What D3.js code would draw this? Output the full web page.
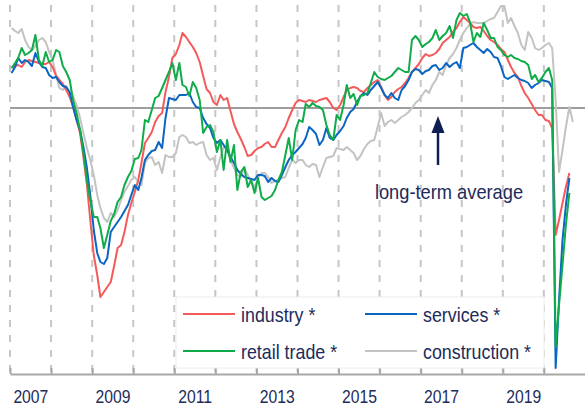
<!DOCTYPE html>
<html>
<head>
<meta charset="utf-8">
<script src="https://cdn.jsdelivr.net/npm/d3@7"></script>
<style>
  body { margin: 0; background: #fff; }
  text { font-family: "Liberation Sans", Arial, sans-serif; fill: #1c2b5a; }
</style>
</head>
<body>
<div id="chart"></div>
<script>
// Monthly confidence indicators, long-term average = 100, first month Jan 2007
var firstMonth = new Date(2007, 0, 15);

var industry = [
  104.0,104.2,104.3,104.1,104.6,104.8,104.7,104.6,104.5,104.4,
  104.4,104.6,104.1,103.2,102.8,102.4,101.8,101.1,100.1,98.8,
  97.5,95.1,92.3,88.8,85.3,83.3,81.1,81.6,82.1,82.6,
  84.2,86.0,86.3,87.6,89.3,90.5,91.6,92.8,94.5,96.5,
  97.0,97.6,98.6,99.2,99.5,101.6,103.1,105.0,105.4,106.3,
  107.5,107.1,106.6,106.1,105.5,104.6,103.2,101.9,101.5,100.6,
  100.3,101.3,100.8,101.0,99.7,98.4,97.6,96.9,96.1,95.2,
  95.3,95.7,96.0,96.1,96.4,96.6,96.1,96.1,96.8,97.5,
  98.1,99.0,99.8,100.5,100.8,100.7,100.6,100.8,100.7,100.6,
  100.8,100.9,101.0,100.6,100.0,99.8,100.3,101.1,101.8,102.0,
  102.1,102.0,101.7,101.6,102.0,102.3,102.6,102.8,102.1,101.3,
  100.8,101.1,101.6,101.9,102.1,102.5,103.0,103.6,104.0,104.4,
  105.0,105.4,105.2,105.3,105.5,105.9,106.5,106.8,107.1,107.6,
  108.0,108.6,109.1,108.8,108.5,108.1,108.0,108.1,107.7,107.2,
  106.8,106.6,106.3,105.9,105.6,104.8,104.1,103.5,103.1,102.2,
  101.5,101.0,100.4,99.8,99.3,99.3,98.8,98.7,98.0,87.3,
  88.8,90.5,92.1,93.5
];

var services = [
  103.5,104.1,105.0,104.5,104.8,104.6,104.2,105.5,104.6,104.1,
  104.0,103.3,103.0,103.1,102.6,102.2,102.1,101.6,100.1,98.8,
  97.8,96.1,94.0,91.3,87.8,85.5,84.6,84.4,85.0,87.6,
  88.1,88.6,89.1,89.7,90.3,91.3,92.3,91.8,93.0,94.8,
  95.3,95.7,95.8,96.6,96.0,99.0,101.0,100.9,100.8,101.3,
  101.3,101.3,101.5,100.6,100.1,100.0,99.0,98.4,98.0,97.0,
  96.5,96.8,96.3,95.8,95.1,94.5,93.8,93.4,93.1,93.0,
  92.9,92.8,93.3,93.3,93.2,92.6,93.0,92.7,92.6,93.3,
  94.1,94.8,95.3,95.6,96.0,96.4,97.0,98.1,97.8,97.4,
  96.3,96.8,98.0,97.0,96.8,97.3,97.7,98.2,99.0,99.6,
  99.9,100.6,101.2,101.5,101.3,101.8,102.2,102.6,102.0,101.3,
  101.0,101.5,101.0,100.8,101.8,102.2,102.8,103.6,103.9,103.8,
  103.4,103.7,103.8,104.2,104.3,103.8,104.0,104.5,104.1,104.4,
  104.6,104.0,106.0,106.1,106.3,106.5,106.1,105.8,105.5,105.9,
  105.6,105.1,105.0,104.2,103.1,102.9,103.1,103.3,103.0,102.8,
  102.7,102.5,102.0,102.3,102.5,102.8,102.7,102.6,102.0,74.0,
  80.8,86.8,90.3,93.0
];

var retail = [
  104.0,104.5,105.0,106.0,105.3,105.5,105.8,107.3,104.8,104.2,
  105.6,104.6,104.8,105.8,105.6,104.2,103.6,102.8,100.8,99.5,
  97.8,95.5,92.8,90.8,89.1,89.1,88.0,86.0,87.3,88.7,
  89.4,90.6,91.1,92.3,93.1,93.7,94.9,95.0,95.8,98.8,
  98.6,99.8,101.0,101.2,102.0,102.8,103.6,104.5,102.8,104.5,
  102.3,102.1,101.2,102.6,102.0,100.8,97.5,98.1,98.3,97.6,
  95.6,96.8,93.8,96.8,94.6,96.3,91.8,93.6,94.1,92.1,
  92.8,91.5,93.0,91.1,90.8,91.0,91.2,91.8,92.8,93.6,
  95.3,97.0,94.8,97.8,98.8,98.6,100.4,100.1,100.5,100.2,
  100.1,99.8,98.3,97.3,96.8,99.3,98.8,100.3,102.3,101.0,
  101.4,100.3,101.2,101.3,101.5,102.5,103.6,103.1,102.9,102.8,
  103.0,103.2,103.6,104.0,103.8,103.6,103.6,106.8,107.2,106.8,
  106.1,106.4,106.6,107.0,107.8,106.8,107.2,107.5,108.2,107.0,
  108.8,109.5,109.2,109.4,108.6,106.6,107.5,107.1,108.5,107.8,
  107.0,107.0,106.1,105.8,105.3,105.1,105.3,105.0,104.9,104.7,
  104.6,104.3,102.9,103.3,102.6,103.0,103.6,104.0,102.8,76.1,
  80.3,84.3,88.3,91.5
];

var construction = [
  108.0,107.7,107.5,107.9,106.8,106.1,105.8,106.2,106.8,107.0,
  106.6,105.6,104.8,103.3,102.0,101.8,102.2,101.1,101.2,100.3,
  99.0,97.5,96.0,94.8,93.3,91.3,90.0,89.0,88.6,89.5,
  89.1,89.8,90.8,91.6,92.2,92.8,93.1,92.6,92.3,94.5,
  95.0,95.1,94.3,94.6,93.5,95.3,95.1,95.1,95.5,97.1,
  97.3,97.1,96.5,96.6,96.3,96.5,96.6,95.3,94.8,95.0,
  93.8,95.1,96.1,95.8,94.8,94.0,93.3,93.1,94.0,93.3,
  92.6,92.1,93.0,93.5,93.5,93.1,92.5,92.7,92.8,93.0,
  93.1,94.0,94.8,94.5,94.8,94.8,94.3,94.1,94.4,94.3,
  93.1,94.1,95.0,95.1,95.2,96.0,95.9,95.8,96.1,95.8,
  95.5,94.8,95.2,95.9,96.4,96.7,96.8,98.1,99.5,98.2,
  98.6,98.8,98.5,98.8,99.1,99.3,99.6,100.0,100.5,100.8,
  101.3,101.8,101.5,102.3,102.8,103.6,103.3,104.3,105.0,105.4,
  106.0,106.8,107.5,108.0,108.4,108.6,108.5,108.5,108.5,108.7,
  108.9,109.0,109.6,110.2,110.2,108.5,109.0,108.2,107.5,106.3,
  105.8,107.6,107.0,106.0,105.8,106.0,106.3,106.5,106.0,100.8,
  93.6,95.8,98.1,100.1,98.6
];

var longTermAverage = 100;
var yearsGrid = d3.range(2007, 2021);
var yearLabels = [2007, 2009, 2011, 2013, 2015, 2017, 2019];

var seriesList = [
  { name: "construction *", values: construction, color: "#c3c3c3" },
  { name: "industry *", values: industry, color: "#f55a5a" },
  { name: "services *", values: services, color: "#0a66c2" },
  { name: "retail trade *", values: retail, color: "#10ac4a" }
];

var width = 585, height = 407;
var svg = d3.select("#chart").append("svg")
  .attr("width", width)
  .attr("height", height);

var axisY = 374;
var narrow = 0.85; // the original lettering is condensed
var x = d3.scaleTime()
  .domain([new Date(2007, 0, 1), new Date(2021, 0, 1)])
  .range([10, 585]);
var y = d3.scaleLinear().domain([73.4, 110.8]).range([axisY, 0]);

function monthDate(i) {
  return d3.timeMonth.offset(firstMonth, i);
}

// dashed year grid
svg.append("g")
  .selectAll("line")
  .data(yearsGrid)
  .enter()
  .append("line")
  .attr("x1", function (d) { return x(new Date(d, 0, 1)); })
  .attr("x2", function (d) { return x(new Date(d, 0, 1)); })
  .attr("y1", 5)
  .attr("y2", axisY)
  .attr("stroke", "#c6c6c6")
  .attr("stroke-width", 2)
  .attr("stroke-dasharray", "7,8");

// long-term average line
svg.append("line")
  .attr("x1", 10)
  .attr("x2", 585)
  .attr("y1", y(longTermAverage))
  .attr("y2", y(longTermAverage))
  .attr("stroke", "#9e9e9e")
  .attr("stroke-width", 2);

var line = d3.line()
  .x(function (d, i) { return x(monthDate(i)); })
  .y(function (d) { return y(d); });

svg.append("g")
  .selectAll("path")
  .data(seriesList)
  .enter()
  .append("path")
  .attr("d", function (d) { return line(d.values); })
  .attr("fill", "none")
  .attr("stroke", function (d) { return d.color; })
  .attr("stroke-width", 2)
  .attr("stroke-linejoin", "round");

// axis with ticks pointing up
var axisG = svg.append("g")
  .attr("transform", "translate(0," + axisY + ")")
  .call(d3.axisBottom(x)
    .tickValues(yearsGrid.map(function (d) { return new Date(d, 0, 1); }))
    .tickSizeInner(-6)
    .tickSizeOuter(0)
    .tickFormat(""));
axisG.select(".domain").attr("stroke", "#a8a8a8").attr("stroke-width", 2);
axisG.selectAll(".tick line").attr("stroke", "#a8a8a8").attr("stroke-width", 2);

var labelG = svg.append("g")
  .attr("transform", "translate(0," + axisY + ")")
  .call(d3.axisBottom(x)
    .tickValues(yearLabels.map(function (d) { return new Date(d, 6, 1); }))
    .tickSize(0)
    .tickPadding(16)
    .tickFormat(d3.timeFormat("%Y")));
labelG.select(".domain").remove();
labelG.selectAll("text")
  .attr("font-size", 18.5)
  .style("font-family", null)
  .attr("fill", "#1c2b5a")
  .attr("transform", "scale(" + narrow + ",1)");

// annotation
svg.append("line")
  .attr("x1", 438).attr("x2", 438)
  .attr("y1", 165).attr("y2", 128)
  .attr("stroke", "#0f1f55")
  .attr("stroke-width", 2.5);
svg.append("path")
  .attr("d", "M438,116 L444.5,133 L431.5,133 Z")
  .attr("fill", "#0f1f55");
svg.append("text")
  .attr("transform", "translate(449,199) scale(" + 0.87 + ",1)")
  .attr("text-anchor", "middle")
  .attr("font-size", 21)
  .text("long-term average");

// legend
var legend = svg.append("g");
legend.append("rect")
  .attr("x", 176).attr("y", 297)
  .attr("width", 368).attr("height", 71)
  .attr("fill", "#fff")
  .attr("stroke", "#ececec");

var legendItems = [
  { s: seriesList[1], lx: 183, ly: 314 },
  { s: seriesList[2], lx: 365, ly: 314 },
  { s: seriesList[3], lx: 183, ly: 351 },
  { s: seriesList[0], lx: 365, ly: 351 }
];
legend.selectAll("line.leg")
  .data(legendItems)
  .enter()
  .append("line")
  .attr("class", "leg")
  .attr("x1", function (d) { return d.lx; })
  .attr("x2", function (d) { return d.lx + 52; })
  .attr("y1", function (d) { return d.ly; })
  .attr("y2", function (d) { return d.ly; })
  .attr("stroke", function (d) { return d.s.color; })
  .attr("stroke-width", 2);
legend.selectAll("text")
  .data(legendItems)
  .enter()
  .append("text")
  .attr("transform", function (d) {
    return "translate(" + (d.lx + 58) + "," + (d.ly + 8) + ") scale(" + narrow + ",1)";
  })
  .attr("font-size", 21)
  .text(function (d) { return d.s.name; });
</script>
</body>
</html>
